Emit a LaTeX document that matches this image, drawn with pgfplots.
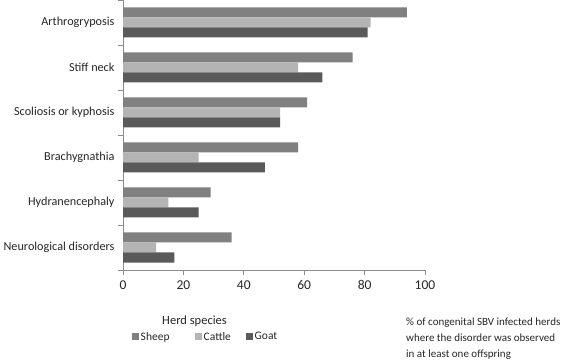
\documentclass[border=0pt]{standalone}
\usepackage{pgfplots}
\pgfplotsset{compat=1.18}
\usepackage{fontspec}
\setmainfont{Carlito}
\definecolor{sheep}{RGB}{128,128,128}
\definecolor{cattle}{RGB}{180,180,180}
\definecolor{goat}{RGB}{90,90,90}
\definecolor{axgray}{RGB}{140,140,140}
\begin{document}
\begin{tikzpicture}[x=1pt,y=1pt]
\begin{axis}[
  at={(123pt,91pt)}, anchor=south west,
  scale only axis, width=302pt, height=270pt,
  xbar, bar width=10pt,
  xmin=0, xmax=100, ymin=-0.5, ymax=5.5,
  xtick={0,20,...,100},
  ytick={0,...,5},
  yticklabels={Neurological disorders, Hydranencephaly, Brachygnathia, Scoliosis or kyphosis, Stiff neck, Arthrogryposis},
  axis x line*=bottom, axis y line*=left,
  axis line style={draw=axgray, line width=0.8pt, -},
  tick align=outside, major tick length=5pt,
  x tick style={draw=axgray, line width=0.8pt},
  y tick style={draw=none},
  extra y ticks={-0.5,0.5,1.5,2.5,3.5,4.5,5.5},
  extra y tick labels={},
  extra y tick style={y tick style={draw=axgray, line width=0.8pt}},
  /pgf/number format/assume math mode=true,
  yticklabel style={font=\fontsize{12.2}{14}\selectfont, text=black!85},
  xticklabel style={font=\fontsize{13.5}{15}\selectfont, text=black!85, yshift=-2pt},
  legend style={at={(axis description cs:0.02,-0.248)}, anchor=west, draw=none, fill=none,
    legend columns=3, font=\fontsize{11.5}{13}\selectfont, text=black!85,
    nodes={inner sep=1.5pt}, column sep=0pt},
  legend cell align=left,
  legend image code/.code={\fill[#1] (0pt,-3.5pt) rectangle (7pt,3.5pt);},
]
\addplot[fill=sheep, draw=none, bar shift=10pt] coordinates {(36,0) (29,1) (58,2) (61,3) (76,4) (94,5)};
\addplot[fill=cattle, draw=none, bar shift=0pt] coordinates {(11,0) (15,1) (25,2) (52,3) (58,4) (82,5)};
\addplot[fill=goat, draw=none, bar shift=-10pt] coordinates {(17,0) (25,1) (47,2) (52,3) (66,4) (81,5)};
\legend{\makebox[53pt][l]{Sheep}, \makebox[41pt][l]{Cattle}, Goat}
\end{axis}
\node[font=\fontsize{12.5}{14}\selectfont, text=black!85] at (194.5,40) {Herd species};
\node[anchor=north west, align=left, inner sep=0pt, font=\fontsize{11}{16}\selectfont, text=black!85] at (406,43) {\% of congenital SBV infected herds\\where the disorder was observed\\in at least one offspring};
\pgfresetboundingbox
\useasboundingbox (0,0) rectangle (564,361);
\end{tikzpicture}
\end{document}
